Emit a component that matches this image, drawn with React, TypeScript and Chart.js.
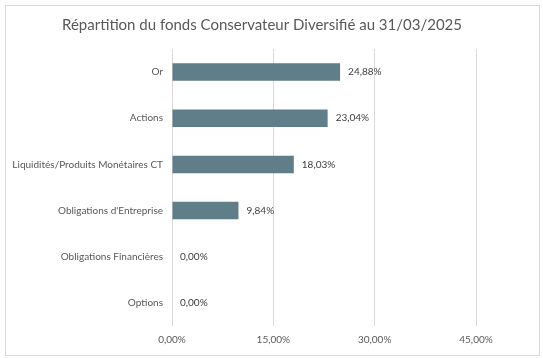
import React, { useEffect, useRef } from "react";
import { Chart, registerables } from "chart.js";

Chart.register(...registerables);

const chartTitle = "Répartition du fonds Conservateur Diversifié au 31/03/2025";
const categories = [
  "Or",
  "Actions",
  "Liquidités/Produits Monétaires CT",
  "Obligations d'Entreprise",
  "Obligations Financières",
  "Options",
];
const values = [24.88, 23.04, 18.03, 9.84, 0, 0];
const xTickValues = [0, 15, 30, 45];

const FONT = "Lato, 'Noto Sans', sans-serif";
const TEXT = "#595959";
const GRID = "#D9D9D9";
const BAR = "#5F7E89";

const fmt = (v: number) => v.toFixed(2).replace(".", ",") + "%";

export default function App() {
  const ref = useRef<HTMLCanvasElement | null>(null);

  useEffect(() => {
    if (!ref.current) return;
    const titlePlugin = {
      id: "titleDraw",
      afterDraw(chart: any) {
        const ctx = chart.ctx;
        ctx.save();
        ctx.font = `15px ${FONT}`;
        ctx.fillStyle = TEXT;
        ctx.textAlign = "center";
        ctx.textBaseline = "middle";
        ctx.fillText(chartTitle, 262, 25);
        ctx.restore();
      },
    };
    const labelPlugin = {
      id: "barLabels",
      afterDatasetsDraw(chart: any) {
        const ctx = chart.ctx;
        const meta = chart.getDatasetMeta(0);
        ctx.save();
        ctx.font = `10px ${FONT}`;
        ctx.fillStyle = "#404040";
        ctx.textAlign = "left";
        ctx.textBaseline = "middle";
        meta.data.forEach((bar: any, i: number) => {
          ctx.fillText(fmt(values[i]), bar.x + 8, bar.y);
        });
        ctx.restore();
      },
    };
    const chart = new Chart(ref.current, {
      type: "bar",
      data: {
        labels: categories,
        datasets: [
          {
            data: values,
            backgroundColor: BAR,
            borderWidth: 0,
            barPercentage: 0.38,
            categoryPercentage: 1,
          },
        ],
      },
      options: {
        indexAxis: "y",
        responsive: false,
        animation: false,
        layout: { padding: { top: 49, left: 5, right: 67, bottom: 8 } },
        plugins: {
          legend: { display: false },
          title: { display: false },
          tooltip: { enabled: false },
        },
        scales: {
          x: {
            min: 0,
            max: 45,
            afterBuildTicks: (scale: any) => {
              scale.ticks = xTickValues.map((v) => ({ value: v }));
            },
            afterFit: (scale: any) => {
              scale.height = 358 - 326 - 8;
            },
            grid: { color: GRID, drawTicks: false, lineWidth: 1 },
            border: { display: false },
            ticks: {
              padding: 8,
              color: TEXT,
              font: { family: FONT, size: 10 },
              callback: (v: any) => fmt(Number(v)),
            },
          },
          y: {
            afterFit: (scale: any) => {
              scale.width = 167;
            },
            grid: { display: false, drawTicks: false },
            border: { display: false },
            ticks: {
              padding: 9,
              color: TEXT,
              font: { family: FONT, size: 10 },
            },
          },
        },
      },
      plugins: [titlePlugin, labelPlugin],
    });
    return () => chart.destroy();
  }, []);

  return (
    <div
      style={{
        position: "fixed",
        left: 0,
        top: 0,
        width: 543,
        height: 358,
        background: "#fff",
      }}
    >
      <div
        style={{
          position: "absolute",
          left: 5,
          top: 5,
          width: 533,
          height: 349,
          border: `1px solid ${GRID}`,
        }}
      />
      <canvas
        ref={ref}
        width={543}
        height={358}
        style={{ position: "absolute", left: 0, top: 0 }}
      />
    </div>
  );
}
